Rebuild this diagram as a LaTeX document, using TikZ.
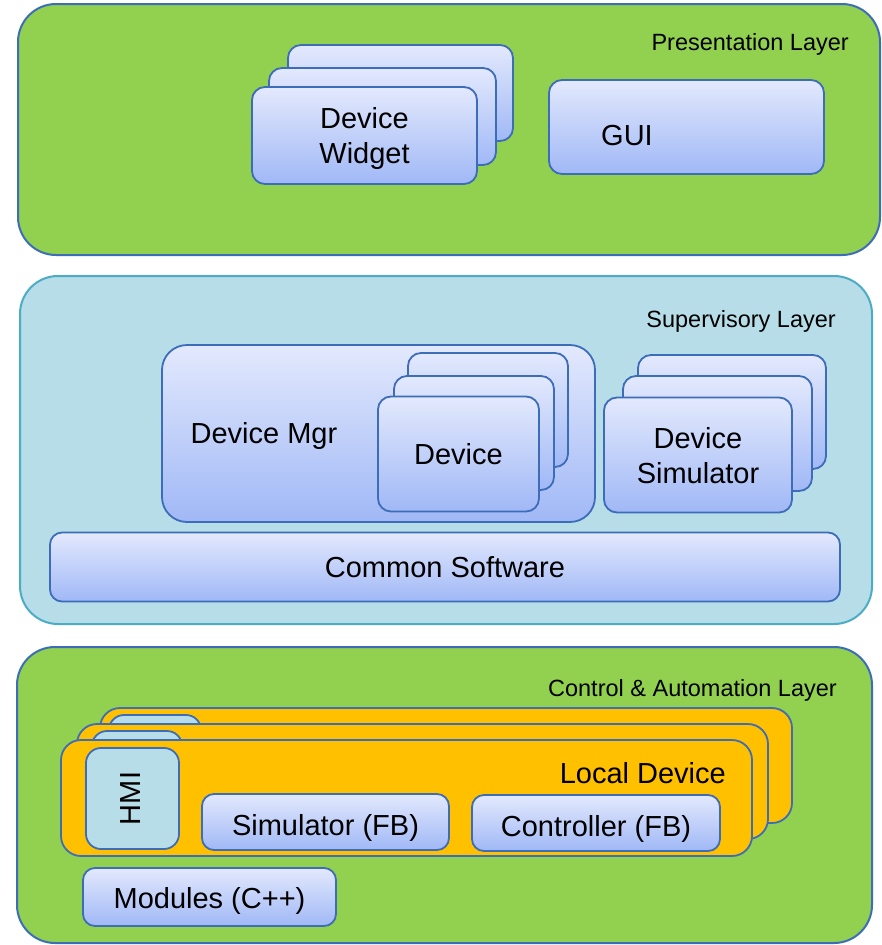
\documentclass[tikz,border=0pt]{standalone}
\usepackage{fontspec}
\setmainfont{Liberation Sans}
\definecolor{layergreen}{HTML}{92D050}
\definecolor{layerblue}{HTML}{B7DDE8}
\definecolor{edgeblue}{HTML}{3D6DB9}
\definecolor{edgeteal}{HTML}{4BACC6}
\definecolor{boxtop}{HTML}{E3E9FD}
\definecolor{boxbot}{HTML}{A0B8F6}
\definecolor{devorange}{HTML}{FFC000}
\begin{document}
\begin{tikzpicture}[x=1pt,y=-1pt,
  layer/.style={draw=edgeblue, line width=2pt, rounded corners=38pt, fill=layergreen, inner sep=0pt},
  box/.style={draw=edgeblue, line width=1.8pt, rounded corners=13pt, top color=boxtop, bottom color=boxbot,
    inner sep=0pt, text depth=0pt, align=center, font=\fontsize{29}{35}\selectfont},
  fbbox/.style={box, rounded corners=12pt, text height=27pt},
  ldev/.style={draw=edgeblue, line width=1.8pt, rounded corners=20pt, fill=devorange, inner sep=0pt},
  hmibox/.style={draw=edgeblue, line width=1.8pt, rounded corners=15pt, fill=layerblue, inner sep=0pt},
  txt/.style={inner sep=0pt, align=center, font=\fontsize{29}{35}\selectfont},
  laytxt/.style={inner sep=0pt, anchor=base east, font=\fontsize{23.5}{28}\selectfont}]
\useasboundingbox (0,0) rectangle (881,945);

% ---------- Presentation layer ----------
\node[layer, minimum width=862, minimum height=251] (pres) at (449,129.5) {};
\node[laytxt] (prestxt) at (849,50.5) {Presentation Layer};
\node[box, minimum width=225, minimum height=96] (wid3) at (400.5,93) {};
\node[box, minimum width=227, minimum height=97] (wid2) at (382.5,116.5) {};
\node[box, minimum width=225, minimum height=97] (wid1) at (364.5,135.5) {Device\\Widget};
\node[box, minimum width=275, minimum height=94] (gui) at (686.5,127) {};
\node[txt] (guitxt) at (627,136) {GUI};

% ---------- Supervisory layer ----------
\node[layer, draw=edgeteal, fill=layerblue, minimum width=852, minimum height=348] (sup) at (446,450) {};
\node[laytxt] (suptxt) at (836,327.5) {Supervisory Layer};
\node[box, rounded corners=25pt, minimum width=433, minimum height=177] (mgr) at (378.5,433.5) {};
\node[txt] (mgrtxt) at (264,436) {Device Mgr};
\node[box, minimum width=160, minimum height=114] (dev3) at (488,410) {};
\node[box, minimum width=160, minimum height=114] (dev2) at (474,433) {};
\node[box, minimum width=161, minimum height=115] (dev1) at (458.5,454) {Device};
\node[box, minimum width=188, minimum height=114] (sim3) at (732,412) {};
\node[box, minimum width=189, minimum height=115] (sim2) at (717.5,433.5) {};
\node[box, minimum width=188, minimum height=115] (sim1) at (698,455) {Device\\Simulator};
\node[box, rounded corners=12pt, minimum width=790, minimum height=69] (common) at (445,567) {Common Software};

% ---------- Control & Automation layer ----------
\node[layer, minimum width=855, minimum height=296] (ctrl) at (444.5,795) {};
\node[laytxt] (ctrltxt) at (837,696.5) {Control \& Automation Layer};
\node[ldev, minimum width=692, minimum height=115] (ld3) at (446,765.5) {};
\node[hmibox, minimum width=92, minimum height=101] (hmi3) at (155,765.5) {};
\node[ldev, minimum width=691, minimum height=115] (ld2) at (422.5,781.5) {};
\node[hmibox, minimum width=90, minimum height=101] (hmi2) at (137,781.5) {};
\node[ldev, minimum width=691, minimum height=116] (ld1) at (406.5,798) {};
\node[hmibox, minimum width=93, minimum height=101] (hmi1) at (132.5,798.5) {};
\node[txt, rotate=90] (hmitxt) at ([xshift=-1.5pt]hmi1.center) {HMI};
\node[txt, anchor=east] (ldtxt) at (726,773) {Local Device};
\node[fbbox, minimum width=247, minimum height=56] (simfb) at (325.5,822) {Simulator (FB)};
\node[fbbox, minimum width=248, minimum height=56] (ctlfb) at (596,823) {Controller (FB)};
\node[fbbox, text height=22pt, minimum width=253, minimum height=58] (mods) at (209.5,897) {Modules (C++)};
\end{tikzpicture}
\end{document}
